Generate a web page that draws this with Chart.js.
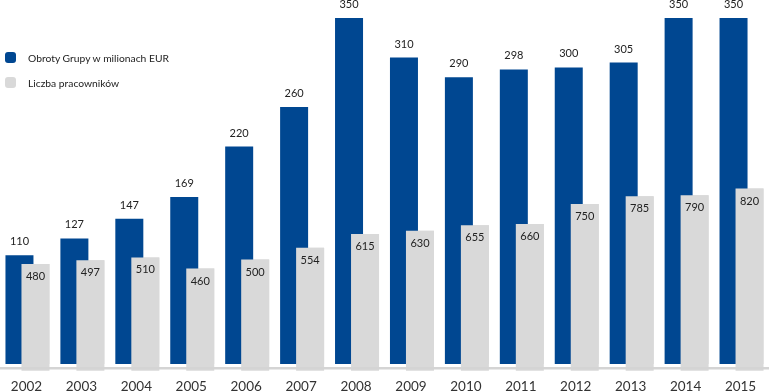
<!DOCTYPE html>
<html>
<head>
<meta charset="utf-8">
<script src="https://cdn.jsdelivr.net/npm/chart.js@4/dist/chart.umd.min.js"></script>
<style>
  html, body { margin: 0; padding: 0; background: #fff; }
  #wrap { position: relative; width: 769px; height: 391px; }
  .legend { position: absolute; left: 5px; top: 51px; font-family: Lato, sans-serif; font-size: 10.3px; color: #222; }
  .legend div { display: flex; align-items: center; height: 13px; margin-bottom: 12px; }
  .legend span { display: inline-block; width: 11px; height: 11px; border-radius: 3px; margin-right: 12px; }
</style>
</head>
<body>
<div id="wrap">
  <canvas id="chart"></canvas>
  <div class="legend">
    <div><span style="background:#004791"></span>Obroty Grupy w milionach EUR</div>
    <div><span style="background:#d9d9d9"></span>Liczba pracowników</div>
  </div>
</div>
<script>
const years = ['2002', '2003', '2004', '2005', '2006', '2007', '2008', '2009', '2010', '2011', '2012', '2013', '2014', '2015'];
const revenue = [110, 127, 147, 169, 220, 260, 350, 310, 290, 298, 300, 305, 350, 350];
const employees = [480, 497, 510, 460, 500, 554, 615, 630, 655, 660, 750, 785, 790, 820];

const BLUE = '#004791';
const GREY = '#d9d9d9';

// grey bars go in front of the blue ones, plus labels and the base line
const overlay = {
    id: 'overlay',
    afterDatasetsDraw(chart) {
        const ctx = chart.ctx;
        const area = chart.chartArea;
        chart.getDatasetMeta(1).controller.draw();

        ctx.save();
        ctx.fillStyle = '#d4d4d4';
        ctx.fillRect(0, area.bottom + 3, chart.width, 2.5);

        ctx.fillStyle = '#222';
        ctx.textAlign = 'center';
        ctx.textBaseline = 'middle';
        ctx.font = '11px Lato';
        chart.getDatasetMeta(0).data.forEach((bar, i) => {
            ctx.fillText(revenue[i], bar.x, bar.y - 13.5);
        });
        chart.getDatasetMeta(1).data.forEach((bar, i) => {
            ctx.fillText(employees[i], bar.x, bar.y + 12.5);
        });

        ctx.fillStyle = '#333';
        ctx.font = '13.5px Lato';
        const xScale = chart.scales.x;
        years.forEach((y, i) => {
            ctx.fillText(y, xScale.getPixelForValue(i) - 1, area.bottom + 23);
        });
        ctx.restore();
    }
};

new Chart(document.getElementById('chart'), {
    type: 'bar',
    data: {
        labels: years,
        datasets: [{
            label: 'Obroty Grupy w milionach EUR',
            data: revenue,
            backgroundColor: BLUE,
            yAxisID: 'y'
        }, {
            label: 'Liczba pracowników',
            data: employees,
            backgroundColor: GREY,
            yAxisID: 'y2'
        }]
    },
    options: {
        responsive: true,
        maintainAspectRatio: false,
        animation: false,
        categoryPercentage: 0.5826,
        barPercentage: 1.75,
        layout: { padding: { top: 18, bottom: 27, left: 0, right: 0 } },
        plugins: {
            legend: { display: false },
            tooltip: { enabled: false }
        },
        scales: {
            x: { display: false },
            y: { display: false, min: 0, max: 350 },
            y2: { display: false, min: 30, max: 1588 }
        }
    },
    plugins: [overlay]
});
</script>
</body>
</html>
